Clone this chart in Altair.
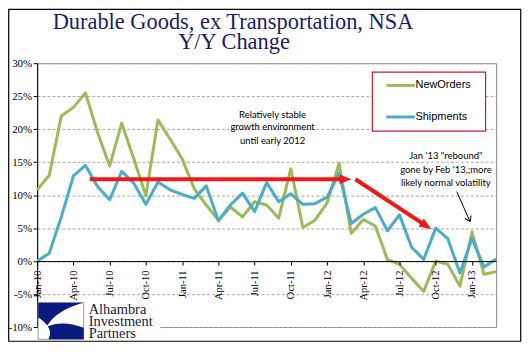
import json
import altair as alt
import pandas as pd

# ---------------- data ----------------
months = [
    "Jan-10", "Feb-10", "Mar-10", "Apr-10", "May-10", "Jun-10", "Jul-10", "Aug-10", "Sep-10", "Oct-10", "Nov-10", "Dec-10",
    "Jan-11", "Feb-11", "Mar-11", "Apr-11", "May-11", "Jun-11", "Jul-11", "Aug-11", "Sep-11", "Oct-11", "Nov-11", "Dec-11",
    "Jan-12", "Feb-12", "Mar-12", "Apr-12", "May-12", "Jun-12", "Jul-12", "Aug-12", "Sep-12", "Oct-12", "Nov-12", "Dec-12",
    "Jan-13", "Feb-13", "Mar-13",
]
new_orders = [
    10.8, 13.0, 22.0, 23.3, 25.5, 19.5, 14.4, 20.9, 15.5, 9.9, 21.4, 18.5,
    15.5, 11.0, 8.5, 6.2, 8.2, 6.7, 9.0, 8.5, 6.5, 14.0, 5.1, 6.2,
    8.8, 14.8, 4.2, 6.3, 5.3, 0.25, -0.5, -2.6, -4.6, 0.0, -0.5, -3.8,
    4.4, -2.0, -1.6,
]
shipments = [
    0.0, 1.2, 6.7, 12.9, 14.5, 11.3, 9.3, 13.6, 11.8, 8.6, 12.0, 10.8,
    10.1, 9.5, 11.4, 6.1, 8.5, 10.3, 7.5, 11.9, 9.0, 10.2, 8.6, 8.7,
    9.7, 13.3, 5.7, 7.1, 8.1, 4.6, 7.0, 2.1, 0.25, 5.0, 3.4, -1.8,
    3.4, -0.9, 0.3,
]
series_names = ["NewOrders", "Shipments"]
series_colors = ["#9BBB59", "#4BACC6"]
y_ticks = [-10, -5, 0, 5, 10, 15, 20, 25, 30]
x_tick_labels = months[::3]

title_lines = ["Durable Goods, ex Transportation,  NSA", "Y/Y Change"]
note1_lines = ["Relatively stable", "growth environment", "until early 2012"]
note2_lines = ["Jan '13 \"rebound\"", "gone by Feb '13,;more", "likely normal volatility"]
logo_lines = ["Alhambra", "Investment", "Partners"]

# annotation anchors in data space (month index, percent)
note1_x = [19.49, 19.49, 19.49]
note1_y = [22.1, 20.25, 18.23]
note2_x = [33.84, 33.84, 33.84]
note2_y = [15.92, 13.8, 11.89]
red_shaft_x = [4.35, 26.35]
red_shaft_x2 = [25.4, 31.93]
red_shaft_y = [12.4, 12.4]
red_shaft_y2 = [12.4, 5.68]
red_head_x = [25.53, 32.21]
red_head_y = [12.4, 5.35]
red_head_angle = [0, 33.3]
black_arrow = {"x": [34.74], "x2": [35.84], "y": [10.53], "y2": [6.0], "angle": [65.9]}

# ---------------- tables ----------------
n = len(months)
df = pd.DataFrame({
    "i": list(range(n)) * 2,
    "month": months * 2,
    "series": [series_names[0]] * n + [series_names[1]] * n,
    "value": new_orders + shipments,
})
notes = pd.DataFrame({
    "text": note1_lines + note2_lines,
    "x": note1_x + note2_x,
    "y": note1_y + note2_y,
})
shafts = pd.DataFrame({"x": red_shaft_x, "x2": red_shaft_x2, "y": red_shaft_y, "y2": red_shaft_y2})
heads = pd.DataFrame({"x": red_head_x, "y": red_head_y, "angle": red_head_angle})
barrow = pd.DataFrame(black_arrow)
one = pd.DataFrame({"k": [0]})

xscale = alt.Scale(domain=[0, n - 1], nice=False, zero=False)
yscale = alt.Scale(domain=[-10, 30], nice=False, zero=False)

W, H = 461, 265
zero_offset = H * 10 / 40

label_expr = json.dumps(x_tick_labels) + "[round(datum.value / 3)]"

x_axis = alt.Axis(
    values=list(range(0, n, 3)), labelExpr=label_expr, offset=-zero_offset,
    grid=False, domainColor="black", tickColor="black", tickSize=4,
    labelAngle=270, labelPadding=5, labelFont="Liberation Serif", labelFontSize=10.5,
    labelColor="black", labelOverlap=False, labelFlush=False, zindex=1)
y_axis = alt.Axis(
    values=y_ticks, labelExpr="datum.value + '%'", grid=True, gridColor="#a6a6a6",
    gridDash=[3, 2], domainColor="black", tickColor="black", tickSize=4, labelPadding=1.5,
    labelFont="Liberation Serif", labelFontSize=11, labelColor="black", labelFlush=False,
    labelOverlap=False)


def X(field):
    return alt.X(field, type="quantitative", scale=xscale, title=None, axis=x_axis)


def Y(field):
    return alt.Y(field, type="quantitative", scale=yscale, title=None, axis=y_axis)


lines = alt.Chart(df).mark_line(strokeWidth=3, strokeJoin="round").encode(
    x=X("i"),
    y=Y("value"),
    color=alt.Color("series:N", scale=alt.Scale(domain=series_names, range=series_colors), legend=None),
)

RED = "#F01818"
red_shafts = alt.Chart(shafts).mark_rule(color=RED, strokeWidth=4, strokeCap="butt").encode(
    x=X("x"), x2="x2:Q", y=Y("y"), y2="y2:Q",
)
red_heads = alt.Chart(heads).mark_point(
    shape="M -1 -0.8 L 1 0 L -1 0.8 Z", size=144, filled=True, fill=RED, opacity=1, strokeWidth=0
).encode(
    x=X("x"), y=Y("y"), angle=alt.Angle("angle:Q", scale=None),
)
black_shaft = alt.Chart(barrow).mark_rule(color="black", strokeWidth=1).encode(
    x=X("x"), x2="x2:Q", y=Y("y"), y2="y2:Q",
)
black_head = alt.Chart(barrow).mark_point(
    shape="M -1 -0.7 L 0 0 L -1 0.7", size=100, filled=False, stroke="black", strokeWidth=1, opacity=1
).encode(
    x=X("x2"), y=Y("y2"), angle=alt.Angle("angle:Q", scale=None),
)
note_text = alt.Chart(notes).mark_text(
    font="Lato", fontSize=9.5, align="center", baseline="middle", color="black"
).encode(
    x=X("x"), y=Y("y"), text="text:N",
)

# legend (manual, boxed in red)
legend_layers = [
    alt.Chart(one).mark_rect(fill="white", stroke="#C0202A", strokeWidth=1.2).encode(
        x=alt.value(336.7), x2=alt.value(450.4), y=alt.value(9), y2=alt.value(68.3))
]
for name, col, ly in zip(series_names, series_colors, [22.3, 54.0]):
    legend_layers.append(alt.Chart(one).mark_rule(color=col, strokeWidth=3).encode(
        x=alt.value(350.7), x2=alt.value(379.4), y=alt.value(ly)))
    legend_layers.append(alt.Chart(one).mark_text(
        align="left", baseline="middle", font="Liberation Sans", fontSize=11, color="black").encode(
        x=alt.value(380), y=alt.value(ly), text=alt.value(name)))

NAVY = "#1C1C6B"
title1 = alt.Chart(one).mark_text(font="Liberation Serif", fontSize=22.5, color=NAVY,
                                  align="center", baseline="alphabetic").encode(
    x=alt.value(196.7), y=alt.value(-34.4), text=alt.value(title_lines[0]))
title2 = alt.Chart(one).mark_text(font="Liberation Serif", fontSize=22.5, color=NAVY,
                                  align="center", baseline="alphabetic").encode(
    x=alt.value(197.7), y=alt.value(-13.9), text=alt.value(title_lines[1]))

# logo
logo_bg = alt.Chart(one).mark_rect(fill="white").encode(
    x=alt.value(1.2), x2=alt.value(123.7), y=alt.value(239.3), y2=alt.value(281.3))
logo_box = alt.Chart(one).mark_rect(fill="white", stroke="#9a9a9a", strokeWidth=1).encode(
    x=alt.value(1), x2=alt.value(46.7), y=alt.value(240.6), y2=alt.value(277.3))
logo_path = ("M -1 -0.8 L 0.98 -0.8 C 0.3 -0.62 -0.3 -0.3 -0.6 0.2 C -0.75 0.0 -0.88 -0.1 -1 -0.15 Z "
             "M -0.55 0.8 L 1 0.8 L 1 0.3 C 0.4 0.05 -0.2 0.05 -0.58 0.24 C -0.45 0.4 -0.45 0.6 -0.55 0.8 Z")
logo_mark = alt.Chart(one).mark_point(shape=logo_path, size=2088, filled=True, fill="#0A1A80",
                                      opacity=1, strokeWidth=0).encode(
    x=alt.value(23.9), y=alt.value(259))
logo_text = alt.Chart(one).mark_text(font="Liberation Serif", fontSize=14.5, lineHeight=12.3,
                                     align="left", baseline="alphabetic", color="#1b1b3a").encode(
    x=alt.value(51.7), y=alt.value(251.6), text=alt.value(logo_lines))

border = alt.Chart(one).mark_rect(fill="transparent", stroke="black", strokeWidth=1.2).encode(
    x=alt.value(-28.6), x2=alt.value(485.7), y=alt.value(-54.0), y2=alt.value(279.3))

chart = alt.layer(
    lines, red_shafts, red_heads, black_shaft, black_head, note_text,
    *legend_layers, title1, title2, logo_bg, logo_box, logo_mark, logo_text, border,
).properties(
    width=W, height=H,
    autosize=alt.AutoSizeParams(type="none"),
    padding={"left": 29.3, "top": 54.7, "right": 28, "bottom": 17},
).configure_view(stroke="#868686", strokeWidth=1)

chart.save("out.html", embed_options={"renderer": "svg", "actions": False})
